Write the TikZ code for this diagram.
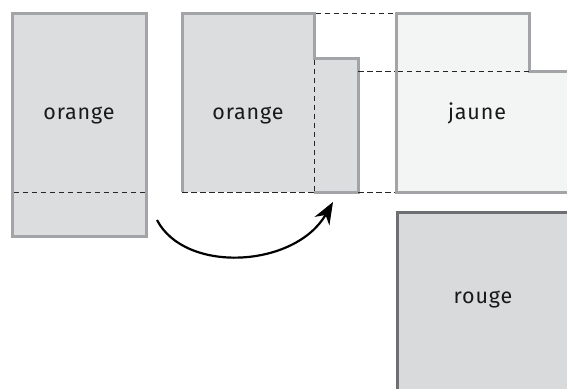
\documentclass[tikz,border=0pt]{standalone}
\usepackage{fontspec}
\setmainfont{Fira Sans}[LetterSpace=4]
\usetikzlibrary{arrows.meta}

\definecolor{boxgray}{HTML}{DCDDDF}
\definecolor{redgray}{HTML}{D9DADC}
\definecolor{paleyellow}{HTML}{F3F4F4}
\definecolor{rimgray}{HTML}{A3A4A7}
\definecolor{darkrim}{HTML}{6E6F72}

\tikzset{
  rim/.style={draw=rimgray, line width=3pt, line join=miter},
  guide/.style={draw=black!85, line width=1pt, dash pattern=on 5.5pt off 3.5pt},
  label/.style={font=\fontsize{21.5}{24}\selectfont, text=black!90},
}

\begin{document}
\begin{tikzpicture}[x=1pt, y=-1pt]
    \useasboundingbox (0,0) rectangle (567,388);
    \clip (0,0) rectangle (567,388);
    % Left piece with its fold line
    \fill [boxgray] (12,13) rectangle (146,236);
    \draw [rim] (12,13) rectangle (146,236);
    \draw [guide] (13.5,192) -- (144.5,192);
    \node [label] (left) at (79,115) {orange};

    % Middle piece: orange part and the strip that was moved
    \fill [boxgray] (182,13) -- (314,13) -- (314,58) -- (358,58)
        -- (358,192) -- (182,192) -- cycle;
    \draw [rim] (314,192) -- (358,192) -- (358,58) -- (314,58)
        -- (314,13) -- (182,13) -- (182,192);
    \draw [guide] (182,192) -- (314,192);
    \draw [guide] (314,59.5) -- (314,192);
    \node [label] (mid) at (248,115) {orange};

    % Guides towards the yellow piece
    \draw [guide] (315.5,13) -- (396,13);
    \draw [guide] (358,71) -- (396,71);
    \draw [guide] (358,192) -- (396,192);

    % Yellow piece
    \fill [paleyellow] (396,13) -- (529,13) -- (529,71) -- (580,71)
        -- (580,192) -- (396,192) -- cycle;
    \draw [rim] (580,71) -- (529,71) -- (529,13) -- (396,13)
        -- (396,192) -- (580,192);
    \draw [guide] (397.5,71) -- (529,71);
    \node [label] (yellow) at (477,113) {jaune};

    % Red piece
    \fill [redgray] (397,212) rectangle (580,400);
    \draw [rim, draw=darkrim] (397,212) rectangle (580,400);
    \node [label] (red) at (483,299) {rouge};

    % Arrow for the moved strip
    \coordinate (from) at (157,220);
    \coordinate (to) at (333,202);
    \draw [-{Stealth[length=22pt, width=17pt, inset=7pt]}, line width=2.2pt]
        (from) .. controls (185,274) and (295,268) .. (to);
\end{tikzpicture}
\end{document}
